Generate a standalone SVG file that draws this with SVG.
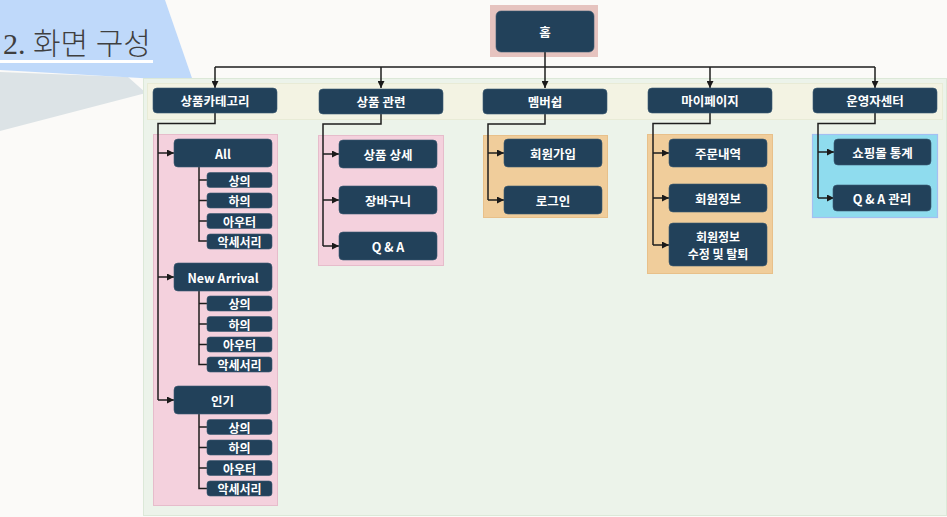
<svg xmlns="http://www.w3.org/2000/svg" width="947" height="517" viewBox="0 0 947 517">
<defs>
<marker id="ah" markerWidth="7" markerHeight="7" refX="7" refY="3.5" orient="auto" markerUnits="userSpaceOnUse">
<path d="M0,0 L7,3.5 L0,7 Z" fill="#1a1a1a"/>
</marker>
<style>
.n{fill:#22415a;stroke:#3d5a72;stroke-width:0.6}
.t{fill:#ffffff;font-family:"Noto Sans CJK KR","Liberation Sans",sans-serif;font-weight:bold;font-size:12.5px;text-anchor:middle;dominant-baseline:central}
.s{font-size:12px}
.c{fill:none;stroke:#1e1e1e;stroke-width:1.5}
.a{marker-end:url(#ah)}
.pink{fill:#f4d1dd;stroke:#e6bccb;stroke-width:1}
.org{fill:#f0cd9b;stroke:#e8c08a;stroke-width:1}
.blu{fill:#8fdcee;stroke:#a3bff2;stroke-width:1.2}
</style>
</defs>
<rect width="947" height="517" fill="#fbfaf8"/>
<polygon points="0,72 128,77 146,93 0,131" fill="#dce3e6"/>
<polygon points="0,0 165,0 193,81 0,70" fill="#bfd9fa"/>
<text x="3" y="54" font-family="'Liberation Serif','Noto Sans CJK KR',serif" font-size="30" font-weight="300" fill="#3f3f3f">2. 화면 구성</text>
<rect x="0" y="60" width="153" height="3" fill="#ffffff"/>
<rect x="143.5" y="78.5" width="803" height="437" fill="#ecf3ea" stroke="#dce8d8" stroke-width="1"/>
<rect x="147.5" y="83.5" width="795" height="36" fill="#f3f3e3" stroke="#e8ebd6" stroke-width="1"/>
<rect x="490" y="5" width="108" height="52" fill="#e6c3bf"/>
<rect class="pink" x="153.5" y="134.5" width="124" height="371"/>
<rect class="pink" x="318.5" y="135.5" width="125" height="130"/>
<rect class="org" x="483.5" y="135.5" width="124" height="82"/>
<rect class="org" x="647.5" y="134.5" width="125" height="139"/>
<rect class="blu" x="812.5" y="134.5" width="125" height="83"/>
<g id="connectors">
<path class="c" d="M545,52 V67 M215,67 H875"/>
<path class="c a" d="M215,67 V88"/>
<path class="c a" d="M381,67 V88"/>
<path class="c a" d="M545,67 V88"/>
<path class="c a" d="M710,67 V88"/>
<path class="c a" d="M875,67 V88"/>
<path class="c" d="M215,113 V123.5 H158 V400"/>
<path class="c a" d="M158,153 H174"/>
<path class="c a" d="M158,277 H174"/>
<path class="c a" d="M158,400 H174"/>
<path class="c" d="M199,167 V241 H207 M199,180 H207 M199,200.5 H207 M199,221 H207"/>
<path class="c" d="M199,291 V364.5 H207 M199,303.5 H207 M199,324 H207 M199,344.5 H207"/>
<path class="c" d="M199,414 V488.5 H207 M199,427 H207 M199,447.5 H207 M199,468 H207"/>
<path class="c" d="M381,114 V124 H323 V246"/>
<path class="c a" d="M323,154 H339"/>
<path class="c a" d="M323,200 H339"/>
<path class="c a" d="M323,246 H339"/>
<path class="c" d="M545,114 V124 H488 V200"/>
<path class="c a" d="M488,153 H504"/>
<path class="c a" d="M488,200 H504"/>
<path class="c" d="M710,113 V123.5 H653 V245"/>
<path class="c a" d="M653,153 H669"/>
<path class="c a" d="M653,198 H669"/>
<path class="c a" d="M653,245 H669"/>
<path class="c" d="M875,113 V123.5 H818 V198"/>
<path class="c a" d="M818,152 H834"/>
<path class="c a" d="M818,198 H834"/>
</g>
<g id="home"><rect class="n" x="496" y="11" width="98" height="41" rx="5"/><text class="t" x="545" y="31.5">홈</text></g>
<g id="cat1"><rect class="n" x="153" y="88" width="124" height="25" rx="4"/><text class="t" x="215" y="100.5">상품카테고리</text></g>
<g id="cat2"><rect class="n" x="319" y="89" width="124" height="25" rx="4"/><text class="t" x="381" y="101.5">상품 관련</text></g>
<g id="cat3"><rect class="n" x="483" y="89" width="124" height="25" rx="4"/><text class="t" x="545" y="101.5">멤버쉽</text></g>
<g id="cat4"><rect class="n" x="648" y="88" width="124" height="25" rx="4"/><text class="t" x="710" y="100.5">마이페이지</text></g>
<g id="cat5"><rect class="n" x="813" y="88" width="124" height="25" rx="4"/><text class="t" x="875" y="100.5">운영자센터</text></g>
<g id="all"><rect class="n" x="174" y="139" width="98" height="28" rx="4"/><text class="t" x="223" y="153">All</text></g>
<g id="all1"><rect class="n" x="207" y="172.5" width="65" height="15" rx="3"/><text class="t s" x="239.5" y="180">상의</text></g>
<g id="all2"><rect class="n" x="207" y="193" width="65" height="15" rx="3"/><text class="t s" x="239.5" y="200.5">하의</text></g>
<g id="all3"><rect class="n" x="207" y="213.5" width="65" height="15" rx="3"/><text class="t s" x="239.5" y="221">아우터</text></g>
<g id="all4"><rect class="n" x="207" y="234" width="65" height="15" rx="3"/><text class="t s" x="239.5" y="241.5">악세서리</text></g>
<g id="new"><rect class="n" x="174" y="263" width="98" height="28" rx="4"/><text class="t" x="223" y="277">New Arrival</text></g>
<g id="new1"><rect class="n" x="207" y="296" width="65" height="15" rx="3"/><text class="t s" x="239.5" y="303.5">상의</text></g>
<g id="new2"><rect class="n" x="207" y="316.5" width="65" height="15" rx="3"/><text class="t s" x="239.5" y="324">하의</text></g>
<g id="new3"><rect class="n" x="207" y="337" width="65" height="15" rx="3"/><text class="t s" x="239.5" y="344.5">아우터</text></g>
<g id="new4"><rect class="n" x="207" y="357" width="65" height="15" rx="3"/><text class="t s" x="239.5" y="364.5">악세서리</text></g>
<g id="pop"><rect class="n" x="174" y="386" width="97" height="28" rx="4"/><text class="t" x="222.5" y="400">인기</text></g>
<g id="pop1"><rect class="n" x="207" y="419.5" width="65" height="15" rx="3"/><text class="t s" x="239.5" y="427">상의</text></g>
<g id="pop2"><rect class="n" x="207" y="440" width="65" height="15" rx="3"/><text class="t s" x="239.5" y="447.5">하의</text></g>
<g id="pop3"><rect class="n" x="207" y="460.5" width="65" height="15" rx="3"/><text class="t s" x="239.5" y="468">아우터</text></g>
<g id="pop4"><rect class="n" x="207" y="481" width="65" height="15" rx="3"/><text class="t s" x="239.5" y="488.5">악세서리</text></g>
<g id="detail"><rect class="n" x="339" y="140" width="98" height="28" rx="4"/><text class="t" x="388" y="154">상품 상세</text></g>
<g id="cart"><rect class="n" x="339" y="186" width="98" height="28" rx="4"/><text class="t" x="388" y="200">장바구니</text></g>
<g id="qna"><rect class="n" x="339" y="232" width="98" height="28" rx="4"/><text class="t" x="388" y="246">Q &amp; A</text></g>
<g id="join"><rect class="n" x="504" y="139" width="98" height="28" rx="4"/><text class="t" x="553" y="153">회원가입</text></g>
<g id="login"><rect class="n" x="504" y="186" width="98" height="28" rx="4"/><text class="t" x="553" y="200">로그인</text></g>
<g id="orders"><rect class="n" x="669" y="139" width="98" height="28" rx="4"/><text class="t" x="718" y="153">주문내역</text></g>
<g id="info"><rect class="n" x="669" y="184" width="98" height="28" rx="4"/><text class="t" x="718" y="198">회원정보</text></g>
<g id="edit"><rect class="n" x="669" y="223" width="98" height="43" rx="4"/><text class="t s" x="718" y="236.5">회원정보</text><text class="t s" x="718" y="253.5">수정 및 탈퇴</text></g>
<g id="stats"><rect class="n" x="834" y="139" width="97" height="26" rx="4"/><text class="t" x="882.5" y="152">쇼핑몰 통계</text></g>
<g id="qnaadmin"><rect class="n" x="833" y="185" width="98" height="26" rx="4"/><text class="t" x="882" y="198">Q &amp; A 관리</text></g>
</svg>
